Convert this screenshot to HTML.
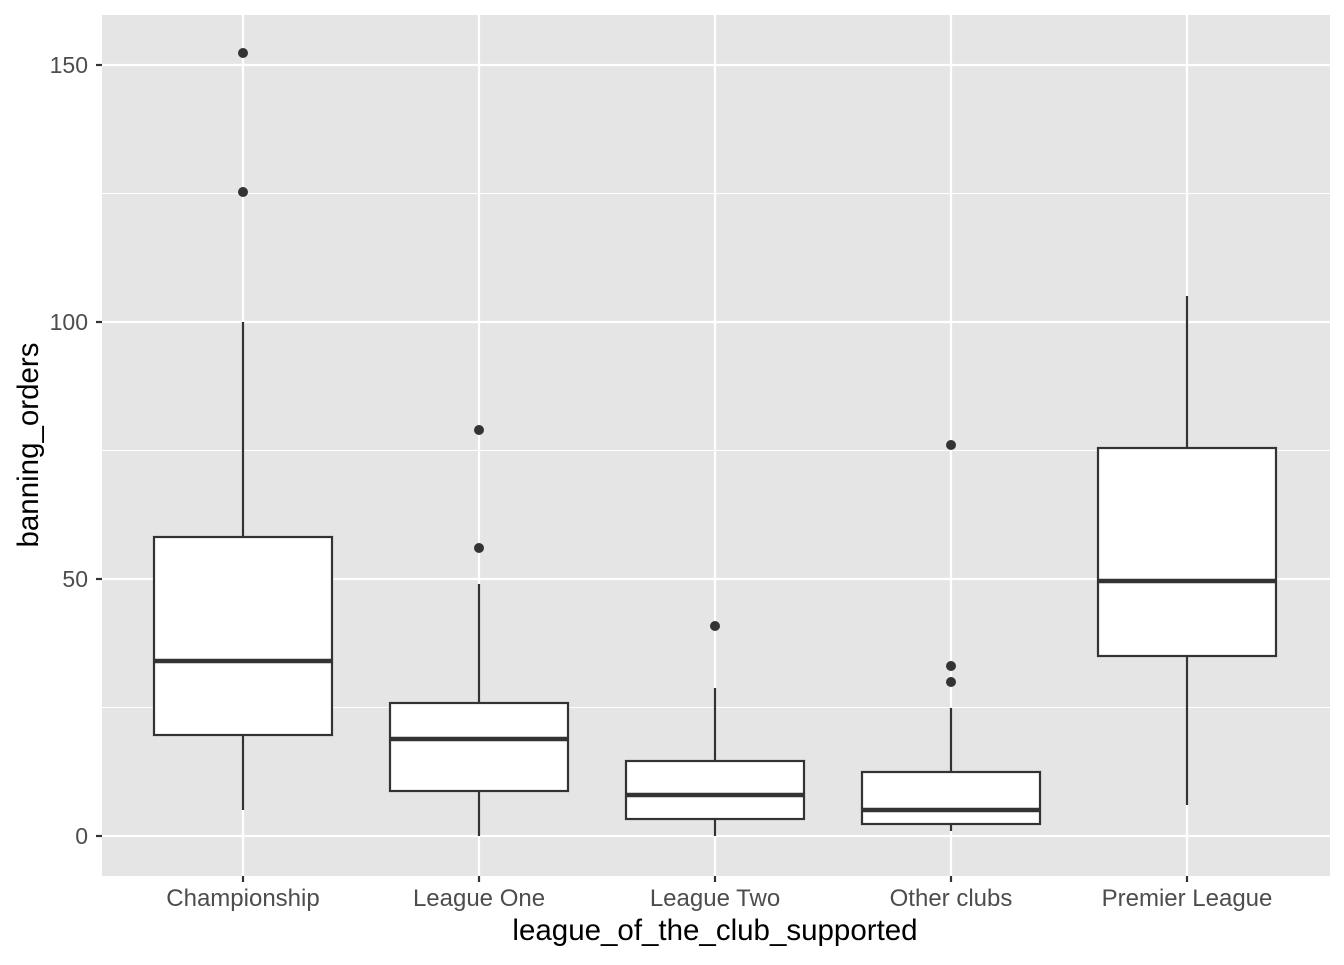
<!DOCTYPE html>
<html><head><meta charset="utf-8"><style>body{margin:0;background:#fff}</style></head><body>
<svg width="1344" height="960" xmlns="http://www.w3.org/2000/svg" font-family="Liberation Sans, sans-serif">
<rect x="102" y="15" width="1228" height="861" fill="#e5e5e5"/>
<g stroke="#fff" stroke-width="1.1">
<line x1="102" x2="1330" y1="193.5" y2="193.5"/><line x1="102" x2="1330" y1="450.5" y2="450.5"/><line x1="102" x2="1330" y1="707.5" y2="707.5"/>
</g>
<g stroke="#fff" stroke-width="2.2">
<line x1="102" x2="1330" y1="65" y2="65"/><line x1="102" x2="1330" y1="322" y2="322"/><line x1="102" x2="1330" y1="579" y2="579"/><line x1="102" x2="1330" y1="836" y2="836"/>
<line x1="243" x2="243" y1="15" y2="876"/><line x1="479" x2="479" y1="15" y2="876"/><line x1="715" x2="715" y1="15" y2="876"/><line x1="951" x2="951" y1="15" y2="876"/><line x1="1187" x2="1187" y1="15" y2="876"/>
</g>
<g stroke="#333" stroke-width="2.2" fill="#fff">
<line x1="243" x2="243" y1="322" y2="810"/><rect x="154" y="537" width="178" height="198"/><line x1="154" x2="332" y1="661" y2="661" stroke-width="4.4"/>
<line x1="479" x2="479" y1="584" y2="836"/><rect x="390" y="703" width="178" height="88"/><line x1="390" x2="568" y1="739" y2="739" stroke-width="4.4"/>
<line x1="715" x2="715" y1="688" y2="836"/><rect x="626" y="761" width="178" height="58"/><line x1="626" x2="804" y1="795" y2="795" stroke-width="4.4"/>
<line x1="951" x2="951" y1="708" y2="831"/><rect x="862" y="772" width="178" height="52"/><line x1="862" x2="1040" y1="810" y2="810" stroke-width="4.4"/>
<line x1="1187" x2="1187" y1="296" y2="805"/><rect x="1098" y="448" width="178" height="208"/><line x1="1098" x2="1276" y1="581" y2="581" stroke-width="4.4"/>
</g>
<g fill="#333">
<circle cx="243" cy="53" r="5"/><circle cx="243" cy="192" r="5"/>
<circle cx="479" cy="430" r="5"/><circle cx="479" cy="548" r="5"/>
<circle cx="715" cy="626" r="5"/>
<circle cx="951" cy="445" r="5"/><circle cx="951" cy="666" r="5"/><circle cx="951" cy="682" r="5"/>
</g>
<g stroke="#333" stroke-width="2.2">
<line x1="96" x2="102" y1="65" y2="65"/><line x1="96" x2="102" y1="322" y2="322"/><line x1="96" x2="102" y1="579" y2="579"/><line x1="96" x2="102" y1="836" y2="836"/>
<line x1="243" x2="243" y1="876" y2="882"/><line x1="479" x2="479" y1="876" y2="882"/><line x1="715" x2="715" y1="876" y2="882"/><line x1="951" x2="951" y1="876" y2="882"/><line x1="1187" x2="1187" y1="876" y2="882"/>
</g>
<g fill="#4d4d4d" font-size="23" text-anchor="end">
<text x="88" y="73">150</text><text x="88" y="330">100</text><text x="88" y="587">50</text><text x="88" y="844">0</text>
</g>
<g fill="#4d4d4d" font-size="24" text-anchor="middle">
<text x="243" y="906">Championship</text><text x="479" y="906">League One</text><text x="715" y="906">League Two</text><text x="951" y="906">Other clubs</text><text x="1187" y="906">Premier League</text>
</g>
<text x="715" y="940" font-size="29.5" text-anchor="middle" fill="#000">league_of_the_club_supported</text>
<text transform="translate(38,445) rotate(-90)" font-size="29.5" text-anchor="middle" fill="#000">banning_orders</text>
</svg>
</body></html>
